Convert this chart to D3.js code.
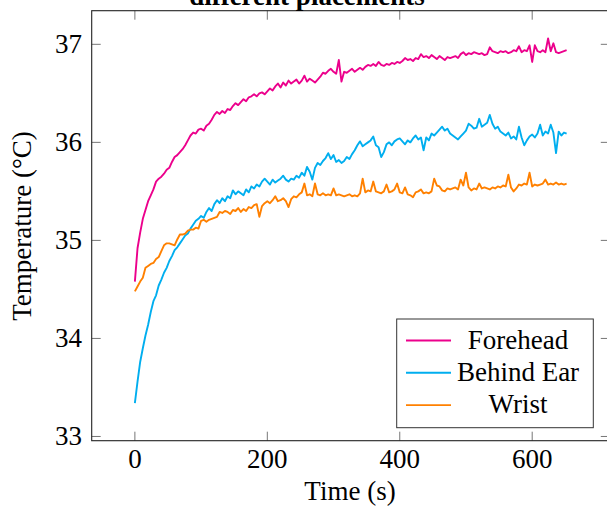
<!DOCTYPE html>
<html>
<head>
<meta charset="utf-8">
<script src="https://cdn.jsdelivr.net/npm/d3@7"></script>
<style>
    html, body { margin: 0; padding: 0; background: #fff; }
    svg { display: block; font-family: "Liberation Serif", "Times New Roman", serif; }
</style>
</head>
<body>
<svg id="chart" width="607" height="506"></svg>
<script>
// sample times (s)
const timeS = [
    0, 4, 8, 12, 16, 20, 24, 28, 32, 36,
    40, 44, 48, 52, 56, 60, 64, 68, 72, 76,
    80, 84, 88, 92, 96, 100, 104, 108, 112, 116,
    120, 124, 128, 132, 136, 140, 144, 148, 152, 156,
    160, 164, 168, 172, 176, 180, 184, 188, 192, 196,
    200, 204, 208, 212, 216, 220, 224, 228, 232, 236,
    240, 244, 248, 252, 256, 260, 264, 268, 272, 276,
    280, 284, 288, 292, 296, 300, 304, 308, 312, 316,
    320, 324, 328, 332, 336, 340, 344, 348, 352, 356,
    360, 364, 368, 372, 376, 380, 384, 388, 392, 396,
    400, 404, 408, 412, 416, 420, 424, 428, 432, 436,
    440, 444, 448, 452, 456, 460, 464, 468, 472, 476,
    480, 484, 488, 492, 496, 500, 504, 508, 512, 516,
    520, 524, 528, 532, 536, 540, 544, 548, 552, 556,
    560, 564, 568, 572, 576, 580, 584, 588, 592, 596,
    600, 604, 608, 612, 616, 620, 624, 628, 632, 636,
    640, 644, 648, 652
];

const forehead = [
    34.58, 34.92, 35.08, 35.22, 35.31, 35.40, 35.46, 35.52, 35.60, 35.63,
    35.65, 35.68, 35.72, 35.74, 35.80, 35.85, 35.87, 35.90, 35.93, 35.97,
    36.02, 36.07, 36.10, 36.09, 36.13, 36.14, 36.12, 36.17, 36.19, 36.23,
    36.28, 36.31, 36.29, 36.32, 36.30, 36.34, 36.33, 36.37, 36.40, 36.38,
    36.41, 36.44, 36.42, 36.46, 36.47, 36.49, 36.47, 36.50, 36.51, 36.49,
    36.52, 36.55, 36.53, 36.57, 36.60, 36.56, 36.61, 36.58, 36.63, 36.60,
    36.62, 36.64, 36.60, 36.63, 36.68, 36.62, 36.65, 36.63, 36.61, 36.64,
    36.67, 36.71, 36.70, 36.73, 36.75, 36.72, 36.70, 36.84, 36.62, 36.72,
    36.71, 36.73, 36.75, 36.72, 36.74, 36.76, 36.74, 36.77, 36.79, 36.78,
    36.80, 36.78, 36.82, 36.79, 36.78, 36.80, 36.79, 36.81, 36.80, 36.82,
    36.81, 36.83, 36.86, 36.84, 36.85, 36.83, 36.86, 36.85, 36.90, 36.87,
    36.88, 36.86, 36.89, 36.87, 36.85, 36.88, 36.86, 36.84, 36.87, 36.86,
    36.87, 36.88, 36.86, 36.90, 36.92, 36.89, 36.91, 36.90, 36.92, 36.91,
    36.90, 36.91, 36.89, 36.90, 36.97, 36.93, 36.92, 36.91, 36.93, 36.92,
    36.93, 36.91, 36.92, 36.94, 36.93, 36.98, 36.92, 36.94, 36.93, 36.99,
    36.82, 36.99, 36.93, 36.92, 36.94, 36.92, 37.06, 36.93, 37.01, 36.92,
    36.91, 36.92, 36.93, 36.94
];

const behindEar = [
    33.34, 33.56, 33.76, 33.90, 34.03, 34.14, 34.27, 34.38, 34.44, 34.54,
    34.60, 34.67, 34.72, 34.79, 34.84, 34.90, 34.93, 34.97, 35.01, 35.05,
    35.07, 35.12, 35.16, 35.20, 35.22, 35.25, 35.23, 35.29, 35.33, 35.30,
    35.37, 35.41, 35.38, 35.43, 35.40, 35.45, 35.43, 35.51, 35.47, 35.50,
    35.48, 35.46, 35.52, 35.49, 35.55, 35.53, 35.57, 35.55, 35.60, 35.63,
    35.60, 35.57, 35.62, 35.59, 35.61, 35.63, 35.66, 35.62, 35.60, 35.63,
    35.62, 35.66, 35.64, 35.69, 35.66, 35.75, 35.70, 35.62, 35.74, 35.79,
    35.77, 35.81, 35.84, 35.89, 35.83, 35.87, 35.80, 35.82, 35.79, 35.81,
    35.85, 35.83, 35.88, 35.92, 35.97, 36.01, 35.96, 35.98, 36.00, 36.02,
    36.06, 35.97, 35.95, 35.85, 35.90, 35.98, 36.00, 35.97, 36.01, 36.03,
    36.04, 36.01, 35.98, 36.02, 36.00, 36.04, 36.07, 36.03, 36.05, 35.92,
    36.05, 36.02, 36.09, 36.07, 36.10, 36.13, 36.16, 36.12, 36.14, 36.09,
    36.07, 36.05, 36.03, 36.06, 36.09, 36.12, 36.19, 36.17, 36.14, 36.15,
    36.24, 36.16, 36.18, 36.20, 36.28, 36.19, 36.14, 36.16, 36.11, 36.09,
    36.07, 36.10, 36.04, 36.06, 36.03, 36.16, 36.05, 35.97, 36.02, 36.06,
    36.08, 36.05, 36.09, 36.18, 36.07, 36.11, 36.09, 36.18, 36.10, 35.89,
    36.11, 36.07, 36.10, 36.09
];

const wrist = [
    34.48, 34.53, 34.58, 34.62, 34.72, 34.74, 34.76, 34.77, 34.81, 34.83,
    34.89, 34.95, 34.97, 34.97, 34.96, 34.95, 35.01, 35.06, 35.06, 35.07,
    35.10, 35.11, 35.11, 35.13, 35.12, 35.20, 35.21, 35.19, 35.21, 35.22,
    35.23, 35.24, 35.29, 35.28, 35.30, 35.29, 35.27, 35.31, 35.30, 35.33,
    35.29, 35.32, 35.30, 35.34, 35.33, 35.36, 35.37, 35.24, 35.35, 35.38,
    35.40, 35.38, 35.41, 35.45, 35.40, 35.41, 35.43, 35.40, 35.34, 35.42,
    35.45, 35.44, 35.47, 35.49, 35.58, 35.46, 35.47, 35.45, 35.58, 35.47,
    35.46, 35.48, 35.46, 35.47, 35.46, 35.53, 35.46, 35.47, 35.46, 35.45,
    35.46, 35.47, 35.45, 35.46, 35.45, 35.48, 35.63, 35.49, 35.51, 35.50,
    35.60, 35.50, 35.49, 35.48, 35.50, 35.57, 35.49, 35.50, 35.52, 35.58,
    35.49, 35.48, 35.54, 35.47, 35.46, 35.44, 35.49, 35.50, 35.52, 35.48,
    35.49, 35.48, 35.50, 35.63, 35.56, 35.55, 35.51, 35.50, 35.53, 35.52,
    35.53, 35.54, 35.52, 35.62, 35.56, 35.69, 35.54, 35.51, 35.53, 35.52,
    35.58, 35.53, 35.54, 35.53, 35.52, 35.54, 35.53, 35.55, 35.54, 35.56,
    35.55, 35.67, 35.54, 35.50, 35.53, 35.57, 35.56, 35.58, 35.57, 35.69,
    35.55, 35.57, 35.56, 35.57, 35.58, 35.62, 35.57, 35.58, 35.57, 35.59,
    35.57, 35.58, 35.57, 35.58
];

const seriesNames = ['Forehead', 'Behind Ear', 'Wrist'];
const seriesColors = ['#ec008c', '#00aeef', '#ff8000'];
const xTicks = [0, 200, 400, 600];
const yTicks = [33, 34, 35, 36, 37];

const box = { left: 91.7, right: 609.8, top: 10.7, bottom: 440.7 };
const tickLen = 9;
const fontSize = 27;

let svg = d3.select('#chart');

let xScale = d3.scaleLinear().domain([-65.2, 717.2]).range([box.left, box.right]);
let yScale = d3.scaleLinear().domain([32.957, 37.343]).range([box.bottom, box.top]);

// tick marks (pgfplots style, inside on all four sides)
let ticks = svg.append('g').attr('class', 'ticks')
    .style('stroke', '#666').style('stroke-width', '0.9');

xTicks.forEach((v) => {
    let x = xScale(v);
    ticks.append('line').attr('x1', x).attr('x2', x).attr('y1', box.bottom).attr('y2', box.bottom - tickLen);
    ticks.append('line').attr('x1', x).attr('x2', x).attr('y1', box.top).attr('y2', box.top + tickLen);
});
yTicks.forEach((v) => {
    let y = yScale(v);
    ticks.append('line').attr('x1', box.left).attr('x2', box.left + tickLen).attr('y1', y).attr('y2', y);
    ticks.append('line').attr('x1', box.right).attr('x2', box.right - tickLen).attr('y1', y).attr('y2', y);
});

// data lines
let plot = svg.append('g').attr('class', 'lines');
let line = d3.line()
    .x((d) => xScale(d.t))
    .y((d) => yScale(d.v));

[forehead, behindEar, wrist].forEach((vals, i) => {
    let pts = vals.map((v, k) => ({ t: timeS[k], v: v }));
    plot.append('path')
        .datum(pts)
        .attr('d', line)
        .style('fill', 'none')
        .style('stroke', seriesColors[i])
        .style('stroke-width', '1.9')
        .style('stroke-linejoin', 'round');
});

// axis frame
svg.append('rect')
    .attr('x', box.left).attr('y', box.top)
    .attr('width', box.right - box.left).attr('height', box.bottom - box.top)
    .style('fill', 'none').style('stroke', '#222').style('stroke-width', '1.1');

// tick labels
svg.append('g').selectAll('text')
    .data(xTicks)
    .enter().append('text')
    .attr('x', (d) => xScale(d))
    .attr('y', 468)
    .attr('text-anchor', 'middle')
    .style('font-size', fontSize + 'px')
    .text((d) => d);

svg.append('g').selectAll('text')
    .data(yTicks)
    .enter().append('text')
    .attr('x', 82)
    .attr('y', (d) => yScale(d) + 9)
    .attr('text-anchor', 'end')
    .style('font-size', fontSize + 'px')
    .text((d) => d);

// axis labels and title
svg.append('text')
    .attr('x', 350).attr('y', 500)
    .attr('text-anchor', 'middle')
    .style('font-size', fontSize + 'px')
    .text('Time (s)');

svg.append('text')
    .attr('transform', 'translate(31, 226) rotate(-90)')
    .attr('text-anchor', 'middle')
    .style('font-size', fontSize + 'px')
    .text('Temperature (°C)');

// title: cut off at the top edge, as in the reference
svg.append('text')
    .attr('x', 307).attr('y', 5)
    .attr('text-anchor', 'middle')
    .style('font-size', fontSize + 'px')
    .style('font-weight', 'bold')
    .text('different placements');

// legend
let legend = svg.append('g').attr('class', 'legend');
legend.append('rect')
    .attr('x', 396.7).attr('y', 319)
    .attr('width', 196.6).attr('height', 108.7)
    .style('fill', '#fff').style('stroke', '#333').style('stroke-width', '1');

seriesNames.forEach((name, i) => {
    let base = 348.5 + i * 32.3;
    legend.append('line')
        .attr('x1', 406).attr('x2', 451)
        .attr('y1', base - 8).attr('y2', base - 8)
        .style('stroke', seriesColors[i]).style('stroke-width', '1.9');
    legend.append('text')
        .attr('x', 518).attr('y', base)
        .attr('text-anchor', 'middle')
        .style('font-size', fontSize + 'px')
        .text(name);
});
</script>
</body>
</html>
